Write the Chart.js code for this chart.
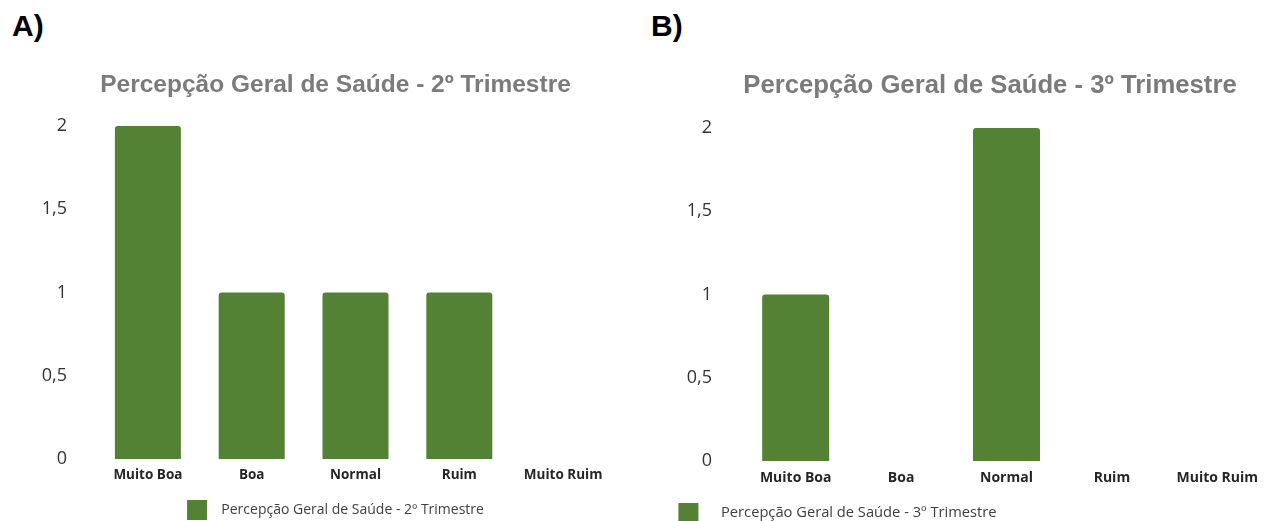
<!DOCTYPE html>
<html lang="pt-BR">
<head>
<meta charset="utf-8">
<title>Percepção Geral de Saúde</title>
<script src="https://cdn.jsdelivr.net/npm/chart.js@4.4.1/dist/chart.umd.min.js"></script>
<style>
  html, body { margin: 0; padding: 0; background: #ffffff; overflow: hidden; }
  body { width: 1270px; height: 521px; position: relative; }
  .letra { position: absolute; font: bold 30px "Liberation Sans", Arial, sans-serif; line-height: 30px; color: #000; }
  canvas { position: absolute; top: 0; }
  #graficaA { left: 0; }
  #graficaB { left: 661px; }
</style>
</head>
<body>
<div class="letra" style="left:12px; top:11px;">A)</div>
<div class="letra" style="left:651px; top:11px;">B)</div>
<canvas id="graficaA" width="671" height="530"></canvas>
<canvas id="graficaB" width="658" height="533"></canvas>

<script>
// Datos
const categorias = ['Muito Boa', 'Boa', 'Normal', 'Ruim', 'Muito Ruim'];
const valores2Tri = [2, 1, 1, 1, 0];
const valores3Tri = [1, 0, 2, 0, 0];
const titulo2Tri = 'Percepção Geral de Saúde - 2º Trimestre';
const titulo3Tri = 'Percepção Geral de Saúde - 3º Trimestre';
const leyenda2Tri = 'Percepção Geral de Saúde - 2º Trimestre';
const leyenda3Tri = 'Percepção Geral de Saúde - 3º Trimestre';
const ticksY = [0, 0.5, 1, 1.5, 2];

const verde = '#548235';

Chart.defaults.font.family = '"Open Sans", sans-serif';

// Arma la configuración de una gráfica (las medidas cambian un poco entre A y B)
function crearGrafica(idLienzo, titulo, leyenda, valores, medidas) {
    const lienzo = document.getElementById(idLienzo).getContext('2d');
    return new Chart(lienzo, {
        type: 'bar',
        data: {
            labels: categorias,
            datasets: [{
                // los espacios separan un poco más el texto del cuadrito
                label: medidas.prefijoLeyenda + leyenda,
                data: valores,
                backgroundColor: verde,
                borderColor: verde,
                borderWidth: 0,
                borderRadius: 3,
                barPercentage: 0.636,
                categoryPercentage: 1
            }]
        },
        options: {
            responsive: false,
            animation: false,
            locale: 'pt-BR',
            layout: { padding: 0 },
            plugins: {
                title: {
                    display: true,
                    text: titulo,
                    color: '#7b7b7b',
                    font: { family: '"Liberation Sans", Arial, sans-serif', size: medidas.letraTitulo, weight: 'bold' },
                    padding: { top: medidas.tituloArriba, bottom: medidas.tituloAbajo }
                },
                legend: {
                    position: 'bottom',
                    align: medidas.alinearLeyenda,
                    labels: {
                        boxWidth: 20,
                        boxHeight: 20,
                        padding: 17.4,
                        color: '#404040',
                        font: { size: medidas.letraLeyenda }
                    }
                },
                tooltip: { enabled: false }
            },
            scales: {
                x: {
                    grid: { display: false, drawTicks: false },
                    border: { display: false },
                    afterFit: (eje) => { eje.height = medidas.altoX; },
                    ticks: {
                        color: '#262626',
                        padding: medidas.paddingX,
                        font: { size: medidas.letraX, weight: 'bold' }
                    }
                },
                y: {
                    min: 0,
                    max: 2,
                    grid: { display: false, drawTicks: false },
                    border: { display: false },
                    afterBuildTicks: (eje) => { eje.ticks = ticksY.map(v => ({ value: v })); },
                    afterFit: (eje) => { eje.width = medidas.anchoY; },
                    ticks: {
                        color: '#333333',
                        padding: medidas.paddingY,
                        font: { size: 18 },
                        callback: (valor) => valor.toLocaleString('pt-BR')
                    }
                },
                // eje vacío a la derecha, sólo para reservar espacio
                relleno: {
                    type: 'linear',
                    position: 'right',
                    display: true,
                    grid: { display: false, drawTicks: false },
                    border: { display: false },
                    ticks: { display: false },
                    afterFit: (eje) => { eje.width = medidas.anchoDerecha; }
                }
            }
        }
    });
}

crearGrafica('graficaA', titulo2Tri, leyenda2Tri, valores2Tri, {
    letraTitulo: 24.5, tituloArriba: 70.3, tituloAbajo: 26.3,
    alinearLeyenda: 'center', letraLeyenda: 14, prefijoLeyenda: '  ',
    paddingX: 8, altoX: 23.6, letraX: 13.5,
    anchoY: 96, paddingY: 29, anchoDerecha: 56
});

crearGrafica('graficaB', titulo3Tri, leyenda3Tri, valores3Tri, {
    letraTitulo: 25.7, tituloArriba: 70.6, tituloAbajo: 26.6,
    alinearLeyenda: 'start', letraLeyenda: 14.7, prefijoLeyenda: '    ',
    paddingX: 9, altoX: 24.6, letraX: 14,
    anchoY: 82, paddingY: 31, anchoDerecha: 49
});
</script>
</body>
</html>
